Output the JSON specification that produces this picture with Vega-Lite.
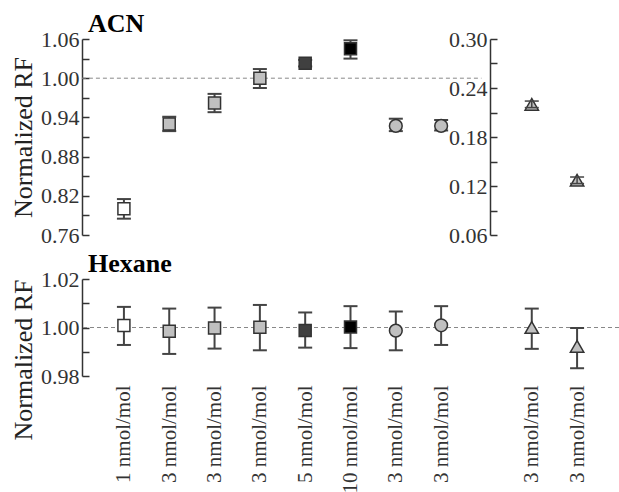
{
  "$schema": "https://vega.github.io/schema/vega-lite/v6.json",
  "background": "white",
  "padding": {"left": 10, "top": 11, "right": 0, "bottom": 0},
  "spacing": 5,
  "config": {
    "view": {"stroke": null},
    "axis": {
      "labelFont": "Liberation Serif", "labelFontSize": 22, "labelColor": "#333",
      "titleFont": "Liberation Serif", "titleFontSize": 26, "titleFontWeight": "normal", "titleColor": "#222",
      "domainColor": "#333", "domainWidth": 1.5, "tickColor": "#333", "tickWidth": 1.5, "grid": false
    },
    "title": {"font": "Liberation Serif", "fontSize": 26, "fontWeight": "bold", "color": "#000", "anchor": "start", "frame": "group", "baseline": "alphabetic", "offset": -9, "dx": 6}
  },
  "datasets": {
    "acnL": [
      {"id": "1 nmol/mol|1", "conc": "1", "method": "A", "v": 0.800, "lo": 0.785, "hi": 0.815},
      {"id": "3 nmol/mol|2", "conc": "3", "method": "A", "v": 0.930, "lo": 0.919, "hi": 0.941},
      {"id": "3 nmol/mol|3", "conc": "3", "method": "A", "v": 0.962, "lo": 0.948, "hi": 0.976},
      {"id": "3 nmol/mol|4", "conc": "3", "method": "A", "v": 1.000, "lo": 0.985, "hi": 1.014},
      {"id": "5 nmol/mol|5", "conc": "5", "method": "A", "v": 1.023, "lo": 1.018, "hi": 1.028},
      {"id": "10 nmol/mol|6", "conc": "10", "method": "A", "v": 1.045, "lo": 1.030, "hi": 1.058},
      {"id": "3 nmol/mol|7", "conc": "3", "method": "B", "v": 0.927, "lo": 0.919, "hi": 0.938},
      {"id": "3 nmol/mol|8", "conc": "3", "method": "B", "v": 0.927, "lo": 0.920, "hi": 0.936}
    ],
    "acnR": [
      {"id": "3 nmol/mol|9", "conc": "3", "method": "C", "v": 0.220, "lo": 0.216, "hi": 0.224},
      {"id": "3 nmol/mol|10", "conc": "3", "method": "C", "v": 0.127, "lo": 0.123, "hi": 0.131}
    ],
    "hexane": [
      {"id": "1 nmol/mol|1", "conc": "1", "method": "A", "v": 1.0008, "lo": 0.9928, "hi": 1.0085},
      {"id": "3 nmol/mol|2", "conc": "3", "method": "A", "v": 0.9985, "lo": 0.9891, "hi": 1.0078},
      {"id": "3 nmol/mol|3", "conc": "3", "method": "A", "v": 0.9998, "lo": 0.9913, "hi": 1.0082},
      {"id": "3 nmol/mol|4", "conc": "3", "method": "A", "v": 1.0001, "lo": 0.9906, "hi": 1.0093},
      {"id": "5 nmol/mol|5", "conc": "5", "method": "A", "v": 0.9988, "lo": 0.9917, "hi": 1.0062},
      {"id": "10 nmol/mol|6", "conc": "10", "method": "A", "v": 1.0002, "lo": 0.9915, "hi": 1.0088},
      {"id": "3 nmol/mol|7", "conc": "3", "method": "B", "v": 0.9987, "lo": 0.9906, "hi": 1.0066},
      {"id": "3 nmol/mol|8", "conc": "3", "method": "B", "v": 1.0009, "lo": 0.9928, "hi": 1.0088},
      {"id": "3 nmol/mol|9", "conc": "3", "method": "C", "v": 1.0000, "lo": 0.9912, "hi": 1.0078},
      {"id": "3 nmol/mol|10", "conc": "3", "method": "C", "v": 0.9922, "lo": 0.9832, "hi": 0.9998}
    ],
    "ref": [{"ref": 1.0}]
  },
  "vconcat": [
    {
      "title": {"text": "ACN"},
      "width": 537,
      "height": 196,
      "layer": [
        {
          "data": {"name": "acnL"},
          "encoding": {
            "y": {"field": "v", "type": "quantitative",
              "scale": {"domain": [0.76, 1.06], "nice": false, "zero": false},
              "axis": {"title": "Normalized RF", "titlePadding": 4, "tickSize": -7, "labelPadding": 10,
                "values": [0.76, 0.79, 0.82, 0.85, 0.88, 0.91, 0.94, 0.97, 1.0, 1.03, 1.06],
                "labelExpr": "(round(datum.value*100)-76) % 6 == 0 ? format(datum.value, '.2f') : ''"}}
          },
          "layer": [
            {
              "data": {"name": "ref"},
              "mark": {"type": "rule", "color": "#888", "strokeWidth": 1, "strokeDash": [4, 3], "xOffset": -42, "x2Offset": -5},
              "encoding": {
                "x": {"datum": "1 nmol/mol|1", "type": "ordinal", "scale": {"type": "point", "padding": 0.925, "domain": ["1 nmol/mol|1", "3 nmol/mol|2", "3 nmol/mol|3", "3 nmol/mol|4", "5 nmol/mol|5", "10 nmol/mol|6", "3 nmol/mol|7", "3 nmol/mol|8", " ", "3 nmol/mol|9", "3 nmol/mol|10"]}, "axis": null},
                "x2": {"datum": " "},
                "y": {"field": "ref", "type": "quantitative"}
              }
            },
            {
              "mark": {"type": "rule", "color": "#444", "strokeWidth": 2},
              "encoding": {"x": {"field": "id", "type": "ordinal"}, "y": {"field": "lo", "type": "quantitative"}, "y2": {"field": "hi"}}
            },
            {
              "mark": {"type": "tick", "orient": "horizontal", "size": 14, "thickness": 2, "color": "#444", "opacity": 1},
              "encoding": {"x": {"field": "id", "type": "ordinal"}, "y": {"field": "lo", "type": "quantitative"}}
            },
            {
              "mark": {"type": "tick", "orient": "horizontal", "size": 14, "thickness": 2, "color": "#444", "opacity": 1},
              "encoding": {"x": {"field": "id", "type": "ordinal"}, "y": {"field": "hi", "type": "quantitative"}}
            },
            {
              "mark": {"type": "point", "filled": true, "stroke": "#333", "strokeWidth": 1.5, "opacity": 1},
              "encoding": {
                "x": {"field": "id", "type": "ordinal"},
                "y": {"field": "v", "type": "quantitative"},
                "fill": {"field": "conc", "type": "nominal", "scale": {"domain": ["1", "3", "5", "10"], "range": ["#ffffff", "#c0c0c0", "#404040", "#000000"]}, "legend": null},
                "shape": {"field": "method", "type": "nominal", "scale": {"domain": ["A", "B", "C"], "range": ["square", "circle", "triangle-up"]}, "legend": null},
                "size": {"field": "method", "type": "ordinal", "scale": {"domain": ["A", "B", "C"], "range": [144, 180, 300]}, "legend": null}
              }
            }
          ]
        },
        {
          "data": {"name": "acnR"},
          "encoding": {
            "y": {"field": "v", "type": "quantitative",
              "scale": {"domain": [0.06, 0.30], "nice": false, "zero": false},
              "axis": {"title": null, "orient": "left", "offset": -408, "tickSize": -7, "labelPadding": 10,
                "values": [0.06, 0.09, 0.12, 0.15, 0.18, 0.21, 0.24, 0.27, 0.30],
                "labelExpr": "round(datum.value*100) % 6 == 0 ? format(datum.value, '.2f') : ''"}}
          },
          "layer": [
            {
              "mark": {"type": "point", "filled": true, "stroke": "#333", "strokeWidth": 1.5, "opacity": 1},
              "encoding": {
                "x": {"field": "id", "type": "ordinal"},
                "y": {"field": "v", "type": "quantitative"},
                "fill": {"field": "conc", "type": "nominal", "legend": null},
                "shape": {"field": "method", "type": "nominal", "legend": null},
                "size": {"field": "method", "type": "ordinal", "legend": null}
              }
            },
            {
              "mark": {"type": "rule", "color": "#444", "strokeWidth": 1.5},
              "encoding": {"x": {"field": "id", "type": "ordinal"}, "y": {"field": "lo", "type": "quantitative"}, "y2": {"field": "hi"}}
            },
            {
              "mark": {"type": "tick", "orient": "horizontal", "size": 14, "thickness": 1.5, "color": "#444", "opacity": 1},
              "encoding": {"x": {"field": "id", "type": "ordinal"}, "y": {"field": "lo", "type": "quantitative"}}
            },
            {
              "mark": {"type": "tick", "orient": "horizontal", "size": 14, "thickness": 1.5, "color": "#444", "opacity": 1},
              "encoding": {"x": {"field": "id", "type": "ordinal"}, "y": {"field": "hi", "type": "quantitative"}}
            }
          ]
        }
      ],
      "resolve": {"scale": {"y": "independent"}, "axis": {"y": "independent"}}
    },
    {
      "title": {"text": "Hexane"},
      "width": 537,
      "height": 97,
      "encoding": {
        "y": {"field": "v", "type": "quantitative",
          "scale": {"domain": [0.98, 1.02], "nice": false, "zero": false},
          "axis": {"title": "Normalized RF", "titlePadding": 4, "titleAnchor": "end", "tickSize": -7, "labelPadding": 10,
            "values": [0.98, 0.99, 1.0, 1.01, 1.02],
            "labelExpr": "round(datum.value*100) % 2 == 0 ? format(datum.value, '.2f') : ''"}}
      },
      "layer": [
        {
          "data": {"name": "ref"},
          "mark": {"type": "rule", "color": "#888", "strokeWidth": 1, "strokeDash": [4, 3]},
          "encoding": {"y": {"field": "ref", "type": "quantitative"}}
        },
        {
          "data": {"name": "hexane"},
          "layer": [
            {
              "mark": {"type": "rule", "color": "#444", "strokeWidth": 2},
              "encoding": {
                "x": {"field": "id", "type": "ordinal",
                  "scale": {"type": "point", "padding": 0.925, "domain": ["1 nmol/mol|1", "3 nmol/mol|2", "3 nmol/mol|3", "3 nmol/mol|4", "5 nmol/mol|5", "10 nmol/mol|6", "3 nmol/mol|7", "3 nmol/mol|8", " ", "3 nmol/mol|9", "3 nmol/mol|10"]},
                  "axis": {"title": null, "ticks": false, "domain": false, "labelAngle": -90, "labelPadding": 9, "labelFontSize": 21,
                    "labelExpr": "split(datum.label, '|')[0]"}},
                "y": {"field": "lo", "type": "quantitative"}, "y2": {"field": "hi"}
              }
            },
            {
              "mark": {"type": "tick", "orient": "horizontal", "size": 14, "thickness": 2, "color": "#444", "opacity": 1},
              "encoding": {"x": {"field": "id", "type": "ordinal"}, "y": {"field": "lo", "type": "quantitative"}}
            },
            {
              "mark": {"type": "tick", "orient": "horizontal", "size": 14, "thickness": 2, "color": "#444", "opacity": 1},
              "encoding": {"x": {"field": "id", "type": "ordinal"}, "y": {"field": "hi", "type": "quantitative"}}
            },
            {
              "mark": {"type": "point", "filled": true, "stroke": "#333", "strokeWidth": 1.5, "opacity": 1},
              "encoding": {
                "x": {"field": "id", "type": "ordinal"},
                "y": {"field": "v", "type": "quantitative"},
                "fill": {"field": "conc", "type": "nominal", "scale": {"domain": ["1", "3", "5", "10"], "range": ["#ffffff", "#c0c0c0", "#404040", "#000000"]}, "legend": null},
                "shape": {"field": "method", "type": "nominal", "scale": {"domain": ["A", "B", "C"], "range": ["square", "circle", "triangle-up"]}, "legend": null},
                "size": {"field": "method", "type": "ordinal", "scale": {"domain": ["A", "B", "C"], "range": [144, 180, 300]}, "legend": null}
              }
            }
          ]
        }
      ]
    }
  ]
}
